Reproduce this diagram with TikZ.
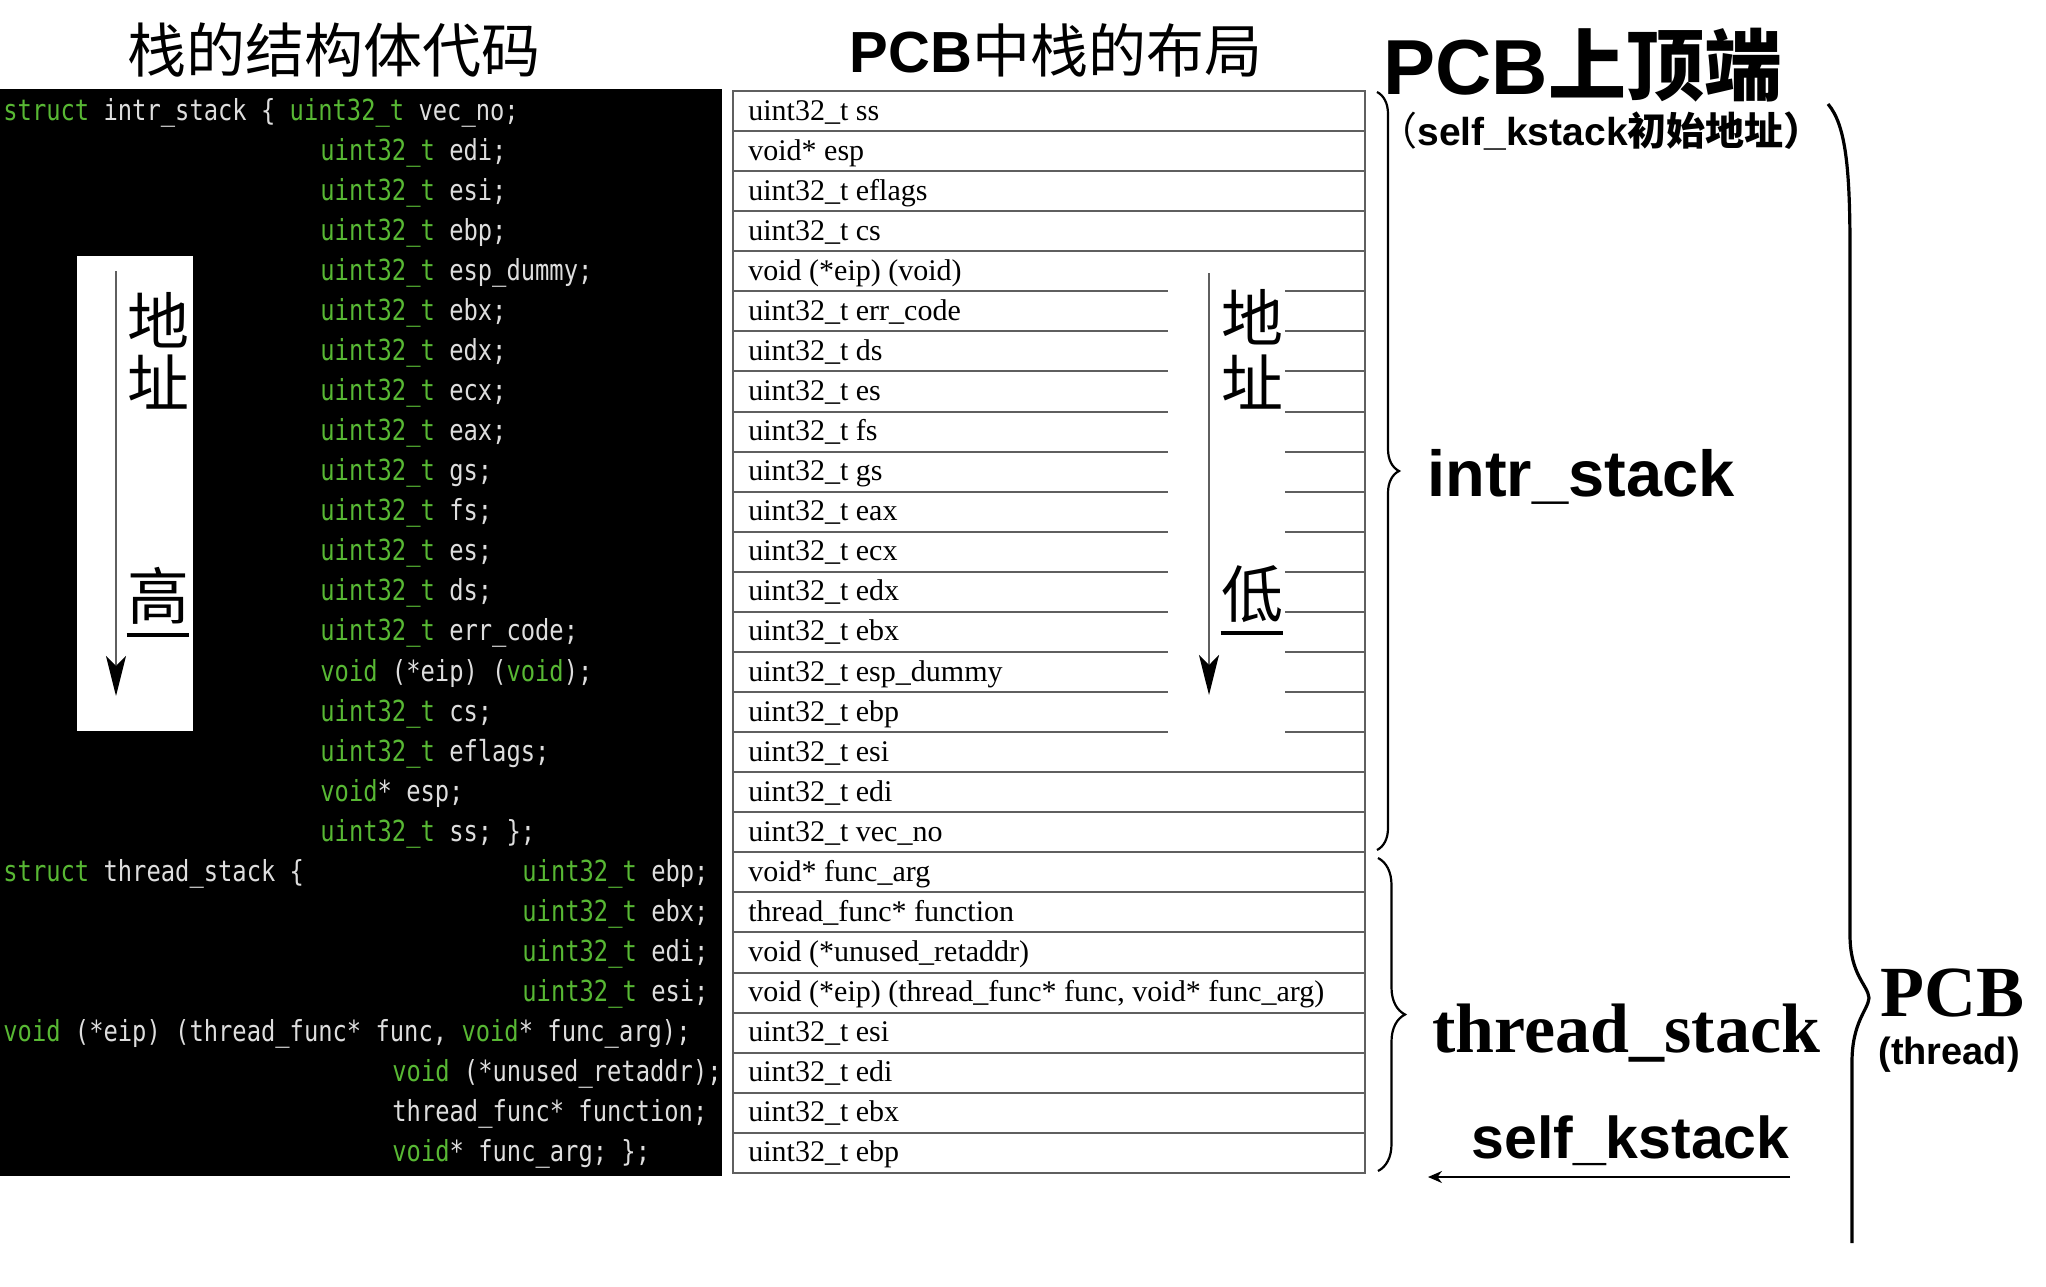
\documentclass[tikz,border=0pt]{standalone}
\usepackage{fontspec}
\setmainfont{Liberation Serif}
\setsansfont{Liberation Sans}
\setmonofont[FakeStretch=0.82]{DejaVu Sans Mono}
\newfontfamily\cjk{Noto Sans CJK SC}
\usetikzlibrary{arrows.meta,decorations.pathreplacing}

\definecolor{codegreen}{RGB}{88,184,52}
\definecolor{codegray}{RGB}{222,222,222}
\definecolor{linegray}{RGB}{95,95,95}

\newcommand{\kw}[1]{\textcolor{codegreen}{#1}}
\newcommand{\fsize}[1]{\fontsize{#1pt}{#1pt}\selectfont}

\begin{document}
\begin{tikzpicture}[x=0.5pt,y=-0.5pt,
  code/.style={anchor=base west,inner sep=0pt,font=\ttfamily\fsize{14.5},text=codegray},
  cell/.style={anchor=base west,inner sep=0pt,font=\fsize{15}},
  hanzi/.style={inner sep=0pt,font=\cjk\fsize{31}},
  sep/.style={linegray,line width=1pt},
  down/.style={-{Stealth[length=20pt,width=10pt,inset=5pt,color=black]},linegray,line width=1.2pt},
  uline/.style={line width=2pt},
  curly/.style={decorate,decoration={brace,amplitude=#1},line width=1.1pt}]

  \useasboundingbox (0,0) rectangle (2046,1286);

  % Row pitch and top of the table
  \def\rh{40.07}
  \def\rtop{91}

  % Titles
  \node[font=\cjk\fsize{29.5}] (codetitle) at (334,50) {栈的结构体代码};
  \node[font=\fsize{29}] (layouttitle) at (1056,50) {{\sffamily\bfseries PCB}{\cjk 中栈的布局}};

  % Code panel
  \fill[black] (0,89) rectangle (722,1176);
  \fill[white] (77,256) rectangle (193,731);

  \node[code] (c1) at (3,{\rtop+0.5*\rh+9}) {\kw{struct} intr\_stack \{ \kw{uint32\_t} vec\_no;};
  \foreach \f [count=\i from 2] in {edi,esi,ebp,esp\_dummy,ebx,edx,ecx,eax,gs,fs,es,ds,err\_code}
    \node[code] (c\i) at (320,{\rtop+(\i-0.5)*\rh+9}) {\kw{uint32\_t} \f;};
  \node[code] (c15) at (320,{\rtop+14.5*\rh+9}) {\kw{void} (*eip) (\kw{void});};
  \node[code] (c16) at (320,{\rtop+15.5*\rh+9}) {\kw{uint32\_t} cs;};
  \node[code] (c17) at (320,{\rtop+16.5*\rh+9}) {\kw{uint32\_t} eflags;};
  \node[code] (c18) at (320,{\rtop+17.5*\rh+9}) {\kw{void}* esp;};
  \node[code] (c19) at (320,{\rtop+18.5*\rh+9}) {\kw{uint32\_t} ss; \};};
  \node[code] (c20) at (3,{\rtop+19.5*\rh+9}) {\kw{struct} thread\_stack \{};
  \foreach \f [count=\i from 20] in {ebp,ebx,edi,esi}
    \node[code] (t\i) at (522,{\rtop+(\i-0.5)*\rh+9}) {\kw{uint32\_t} \f;};
  \node[code] (c24) at (3,{\rtop+23.5*\rh+9}) {\kw{void} (*eip) (thread\_func* func, \kw{void}* func\_arg);};
  \node[code] (c25) at (392,{\rtop+24.5*\rh+9}) {\kw{void} (*unused\_retaddr);};
  \node[code] (c26) at (392,{\rtop+25.5*\rh+9}) {thread\_func* function;};
  \node[code] (c27) at (392,{\rtop+26.5*\rh+9}) {\kw{void}* func\_arg; \};};

  % Address direction inside the code panel
  \coordinate (ltop) at (116,271);
  \coordinate (lend) at (116,696);
  \draw[down] (ltop) -- (lend);
  \node[hanzi] (ldi) at (158,320) {地};
  \node[hanzi] (lzhi) at (158,382) {址};
  \node[hanzi] (lgao) at (158,596) {高};
  \draw[uline] ([yshift=-5pt]lgao.south west) -- ([yshift=-5pt]lgao.south east);

  % Stack layout table
  \foreach \t [count=\i] in {uint32\_t ss, void* esp, uint32\_t eflags, uint32\_t cs,
      void (*eip) (void), uint32\_t err\_code, uint32\_t ds, uint32\_t es, uint32\_t fs,
      uint32\_t gs, uint32\_t eax, uint32\_t ecx, uint32\_t edx, uint32\_t ebx,
      uint32\_t esp\_dummy, uint32\_t ebp, uint32\_t esi, uint32\_t edi, uint32\_t vec\_no,
      void* func\_arg, thread\_func* function, void (*unused\_retaddr),
      {void (*eip) (thread\_func* func, void* func\_arg)},
      uint32\_t esi, uint32\_t edi, uint32\_t ebx, uint32\_t ebp}
    \node[cell] (r\i) at (748,{\rtop+(\i-0.5)*\rh+9}) {\t};

  \draw[sep] (733,\rtop) rectangle (1365,{\rtop+27*\rh});
  \foreach \i in {1,...,4,17,18,...,26}
    \draw[sep] (733,{\rtop+\i*\rh}) -- (1365,{\rtop+\i*\rh});
  \foreach \i in {5,...,16} {
    \draw[sep] (733,{\rtop+\i*\rh}) -- (1168,{\rtop+\i*\rh});
    \draw[sep] (1285,{\rtop+\i*\rh}) -- (1365,{\rtop+\i*\rh});
  }

  % Address direction inside the table
  \coordinate (rtopc) at (1209,273);
  \coordinate (rend) at (1209,695);
  \draw[down] (rtopc) -- (rend);
  \node[hanzi] (rdi) at (1252,317) {地};
  \node[hanzi] (rzhi) at (1252,382) {址};
  \node[hanzi] (rdi2) at (1252,594) {低};
  \draw[uline] ([yshift=-5pt]rdi2.south west) -- ([yshift=-5pt]rdi2.south east);

  % Labels on the right
  \node[anchor=base west,inner sep=0pt,font=\fsize{39}] (pcbtop) at (1383,94)
    {{\sffamily\bfseries PCB}{\cjk\bfseries 上顶端}};
  \node[anchor=base west,inner sep=0pt,font=\fsize{19.5}] (kinit) at (1378,145)
    {{\cjk （}{\sffamily\bfseries self\_kstack}{\cjk\bfseries 初始地址）}};
  \node[anchor=base west,inner sep=0pt,font=\sffamily\bfseries\fsize{32.5}] (intr) at (1427,496) {intr\_stack};
  \node[anchor=base west,inner sep=0pt,font=\bfseries\fsize{35}] (thr) at (1432,1052) {thread\_stack};
  \node[anchor=base west,inner sep=0pt,font=\sffamily\bfseries\fsize{29.5}] (ksp) at (1471,1158) {self\_kstack};
  \node[anchor=base west,inner sep=0pt,font=\bfseries\fsize{36}] (pcb) at (1880,1016) {PCB};
  \node[anchor=base west,inner sep=0pt,font=\sffamily\bfseries\fsize{19}] (pcbsub) at (1878,1064) {(thread)};

  % Braces
  \draw[curly=11pt] (1377,92) -- (1377,850);
  \draw[curly=13.5pt] (1378,858) -- (1378,1171);
  \draw[line width=1.6pt] (1828,104) .. controls (1846,125) and (1850,170) .. (1850,250)
    -- (1850,935) .. controls (1850,975) and (1868,985) .. (1869,998)
    .. controls (1868,1010) and (1852,1022) .. (1852,1062) -- (1852,1243);

  % self_kstack pointer
  \coordinate (kend) at (1428,1177);
  \draw[-{Stealth[length=7pt,width=6pt]},line width=0.8pt] (ksp.south east |- kend) -- (kend);

\end{tikzpicture}
\end{document}
